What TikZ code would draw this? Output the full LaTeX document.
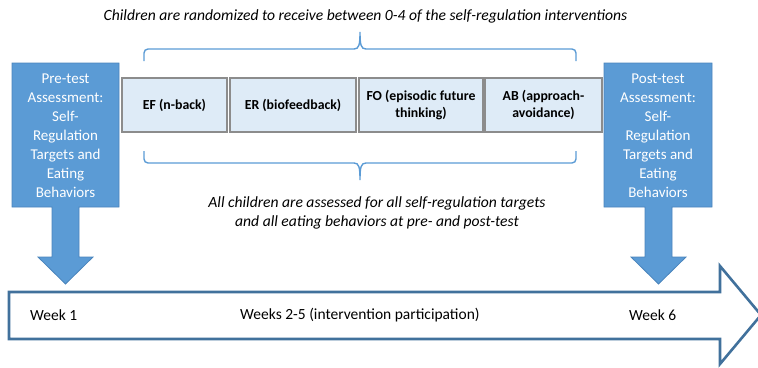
\documentclass[tikz,border=0pt]{standalone}
\usepackage{fontspec}
\setmainfont{Carlito}
\definecolor{assessfill}{HTML}{5B9BD5}
\definecolor{assessline}{HTML}{4A84BC}
\definecolor{timeline}{HTML}{41719C}
\definecolor{boxfill}{HTML}{DEEBF7}
\definecolor{boxline}{HTML}{8C8C8C}
\definecolor{bracecol}{HTML}{5B9BD5}
\begin{document}
\begin{tikzpicture}[x=1pt,y=-1pt,
  arm/.style={fill=assessfill,draw=assessline,line width=0.8pt,line join=miter},
  armtext/.style={text=white,align=center,font=\fontsize{15}{19}\selectfont},
  intervention/.style={draw=boxline,fill=boxfill,line width=1.3pt,inner sep=0pt,
    minimum height=54pt,align=center,font=\bfseries\fontsize{13.8}{16.5}\selectfont},
  brace/.style={draw=bracecol,line width=1.4pt,rounded corners=4pt},
  note/.style={align=center,inner sep=0pt,font=\itshape\fontsize{15.6}{19}\selectfont},
  weeklabel/.style={anchor=west,inner sep=0pt,font=\fontsize{15.5}{18}\selectfont}]
\useasboundingbox (0,0) rectangle (758,367);

% time line arrow
\draw[draw=timeline,fill=white,line width=2.6pt,line join=miter]
  (9,292) -- (720,292) -- (720,266) -- (761,315) -- (720,364) -- (720,339) -- (9,339) -- cycle;
\node[weeklabel] (w1) at (30,315) {Week 1};
\node[weeklabel] (w25) at (240,315) {Weeks 2-5 (intervention participation)};
\node[weeklabel] (w6) at (629,315) {Week 6};

% pre-test assessment callout
\draw[arm] (12,63) -- (119,63) -- (119,207) -- (79,207) -- (79,257) -- (93,257)
  -- (65.5,284) -- (38,257) -- (52,257) -- (52,207) -- (12,207) -- cycle;
\node[armtext] (pre) at (65.5,135.5) {Pre-test\\Assessment:\\Self-\\Regulation\\Targets and\\Eating\\Behaviors};

% post-test assessment callout
\draw[arm] (604,63) -- (712,63) -- (712,207) -- (672,207) -- (672,257) -- (686,257)
  -- (658.5,284) -- (631,257) -- (645,257) -- (645,207) -- (604,207) -- cycle;
\node[armtext] (post) at (658,135.5) {Post-test\\Assessment:\\Self-\\Regulation\\Targets and\\Eating\\Behaviors};

% interventions
\node[intervention,minimum width=105pt] (ef) at (174.5,105) {EF (n-back)};
\node[intervention,minimum width=126pt] (er) at (293,105) {ER (biofeedback)};
\node[intervention,minimum width=124pt] (fo) at (421,105) {FO (episodic future\\thinking)};
\node[intervention,minimum width=117pt] (ab) at (543.5,105) {AB (approach-\\avoidance)};

% braces
\draw[brace] (144,61) -- (144,49) -- (354,49);
\draw[draw=bracecol,line width=1.4pt] (354,49) .. controls (359,49) and (360,45) .. (360,32)
  .. controls (360,45) and (361,49) .. (366,49);
\draw[brace] (366,49) -- (576,49) -- (576,61);

\draw[brace] (144,151) -- (144,163) -- (354,163);
\draw[draw=bracecol,line width=1.4pt] (354,163) .. controls (359,163) and (360,167) .. (360,180)
  .. controls (360,167) and (361,163) .. (366,163);
\draw[brace] (366,163) -- (576,163) -- (576,151);

% notes
\node[note] (top) at (365.5,16)
  {Children are randomized to receive between 0-4 of the self-regulation interventions};
\node[note] (bottom) at (377,212.5)
  {All children are assessed for all self-regulation targets\\and all eating behaviors at pre- and post-test};
\end{tikzpicture}
\end{document}
